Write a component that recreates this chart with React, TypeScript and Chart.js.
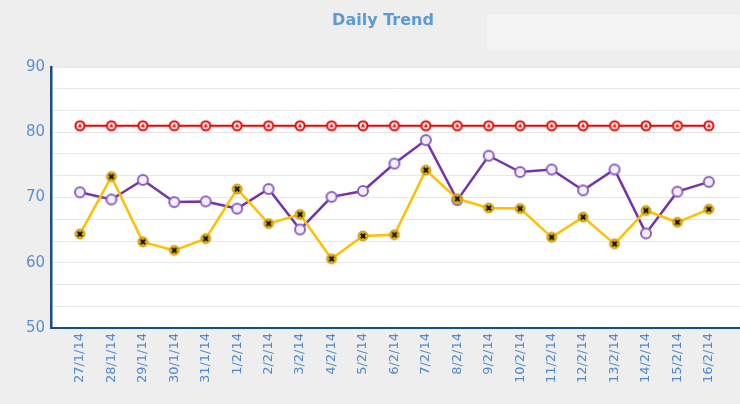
import React, { useEffect, useRef } from "react";
import { Chart, registerables } from "chart.js";

Chart.register(...registerables);

const categories = [
  "27/1/14", "28/1/14", "29/1/14", "30/1/14", "31/1/14", "1/2/14", "2/2/14",
  "3/2/14", "4/2/14", "5/2/14", "6/2/14", "7/2/14", "8/2/14", "9/2/14",
  "10/2/14", "11/2/14", "12/2/14", "13/2/14", "14/2/14", "15/2/14", "16/2/14",
];
const targetSeries = [81, 81, 81, 81, 81, 81, 81, 81, 81, 81, 81, 81, 81, 81, 81, 81, 81, 81, 81, 81, 81];
const purpleSeries = [70.8, 69.7, 72.7, 69.3, 69.4, 68.3, 71.3, 65.1, 70.1, 71.0, 75.2, 78.8, 69.6, 76.4, 73.9, 74.3, 71.1, 74.3, 64.5, 70.9, 72.4];
const yellowSeries = [64.4, 73.2, 63.2, 61.9, 63.7, 71.3, 66.0, 67.4, 60.6, 64.1, 64.3, 74.2, 69.8, 68.4, 68.3, 63.9, 67.0, 62.9, 68.0, 66.2, 68.2];
const yTickValues = [50, 53.333, 56.667, 60, 63.333, 66.667, 70, 73.333, 76.667, 80, 83.333, 86.667, 90];
const yLabelValues = [50, 60, 70, 80, 90];
const titleText = "Daily Trend";

function makeMarker(kind: "red" | "purple" | "yellow"): HTMLCanvasElement {
  const c = document.createElement("canvas");
  c.width = 14;
  c.height = 14;
  const g = c.getContext("2d")!;
  if (kind === "red") {
    g.beginPath();
    g.arc(7, 7, 4.5, 0, Math.PI * 2);
    g.fillStyle = "#ffffff";
    g.fill();
    g.lineWidth = 2;
    g.strokeStyle = "#f00000";
    g.stroke();
    g.beginPath();
    g.moveTo(7, 4.8);
    g.lineTo(9.2, 8.6);
    g.lineTo(4.8, 8.6);
    g.closePath();
    g.fillStyle = "#f00000";
    g.fill();
  } else if (kind === "purple") {
    g.beginPath();
    g.arc(7, 7, 5, 0, Math.PI * 2);
    g.fillStyle = "#f3eefa";
    g.fill();
    g.lineWidth = 2;
    g.strokeStyle = "#8a62bd";
    g.stroke();
  } else {
    g.beginPath();
    g.arc(7, 7, 5, 0, Math.PI * 2);
    g.fillStyle = "#e2b000";
    g.fill();
    g.lineWidth = 1;
    g.strokeStyle = "#c29a30";
    g.stroke();
    g.beginPath();
    g.moveTo(4.8, 4.8);
    g.lineTo(9.2, 9.2);
    g.moveTo(9.2, 4.8);
    g.lineTo(4.8, 9.2);
    g.lineWidth = 2;
    g.strokeStyle = "#111111";
    g.stroke();
  }
  return c;
}

const bgPlugin = {
  id: "bgPlugin",
  beforeDraw(chart: any) {
    const { ctx, chartArea, width, height } = chart;
    ctx.save();
    ctx.fillStyle = "#eeeeee";
    ctx.fillRect(0, 0, width, height);
    ctx.fillStyle = "#f3f3f3";
    ctx.fillRect(487, 15, 253, 35);
    ctx.fillStyle = "#ffffff";
    ctx.fillRect(chartArea.left, chartArea.top, chartArea.right - chartArea.left, chartArea.bottom - chartArea.top);
    ctx.font = "bold 16px 'DejaVu Sans'";
    ctx.fillStyle = "#5b9bd5";
    ctx.textAlign = "center";
    ctx.textBaseline = "middle";
    ctx.fillText(titleText, 383, 21);
    ctx.restore();
  },
};

export default function App() {
  const ref = useRef<HTMLCanvasElement | null>(null);
  useEffect(() => {
    if (!ref.current) return;
    const toPts = (arr: number[]) => arr.map((v, i) => ({ x: i, y: v }));
    const chart = new Chart(ref.current, {
      type: "line",
      data: {
        datasets: [
          {
            label: "Target",
            data: toPts(targetSeries),
            borderColor: "#f00000",
            borderWidth: 2,
            pointStyle: makeMarker("red") as any,
            order: 3,
          },
          {
            label: "Purple",
            data: toPts(purpleSeries),
            borderColor: "#7535a8",
            borderWidth: 2.5,
            pointStyle: makeMarker("purple") as any,
            order: 2,
          },
          {
            label: "Yellow",
            data: toPts(yellowSeries),
            borderColor: "#ffc000",
            borderWidth: 2.5,
            pointStyle: makeMarker("yellow") as any,
            order: 1,
          },
        ],
      },
      options: {
        animation: false,
        responsive: false,
        maintainAspectRatio: false,
        layout: { autoPadding: false, padding: { top: 67, left: 0, right: 0, bottom: 0 } },
        plugins: { legend: { display: false }, title: { display: false }, tooltip: { enabled: false } },
        scales: {
          x: {
            type: "linear",
            min: -0.92,
            max: 20.99,
            afterBuildTicks: (s: any) => {
              s.ticks = categories.map((_, i) => ({ value: i }));
            },
            afterFit: (s: any) => {
              s.height = 76;
              s.paddingLeft = 0;
              s.paddingRight = 0;
            },
            grid: { display: false, drawTicks: false },
            border: { display: true, color: "#1b4f80", width: 2 },
            ticks: {
              autoSkip: false,
              minRotation: 90,
              maxRotation: 90,
              padding: 5,
              color: "#5288c8",
              font: { family: "'DejaVu Sans'", size: 13 },
              callback: (v: any) => categories[Math.round(Number(v))] ?? "",
            },
          },
          y: {
            min: 50,
            max: 90,
            afterBuildTicks: (s: any) => {
              s.ticks = yTickValues.map((v) => ({ value: v }));
            },
            afterFit: (s: any) => {
              s.width = 51;
            },
            grid: { color: "#e8e8e8", lineWidth: 1, drawTicks: false },
            border: { display: true, color: "#1b4f80", width: 2.5 },
            ticks: {
              padding: 6,
              color: "#5a8fcf",
              font: { family: "'DejaVu Sans'", size: 15 },
              callback: (v: any) => {
                const n = Number(v);
                const hit = yLabelValues.find((l) => Math.abs(l - n) < 0.01);
                return hit !== undefined ? String(hit) : "";
              },
            },
          },
        },
      },
      plugins: [bgPlugin],
    });
    return () => chart.destroy();
  }, []);
  return (
    <div style={{ position: "fixed", left: 0, top: 0, width: 740, height: 404 }}>
      <canvas ref={ref} width={740} height={404} style={{ width: 740, height: 404, display: "block" }} />
    </div>
  );
}
